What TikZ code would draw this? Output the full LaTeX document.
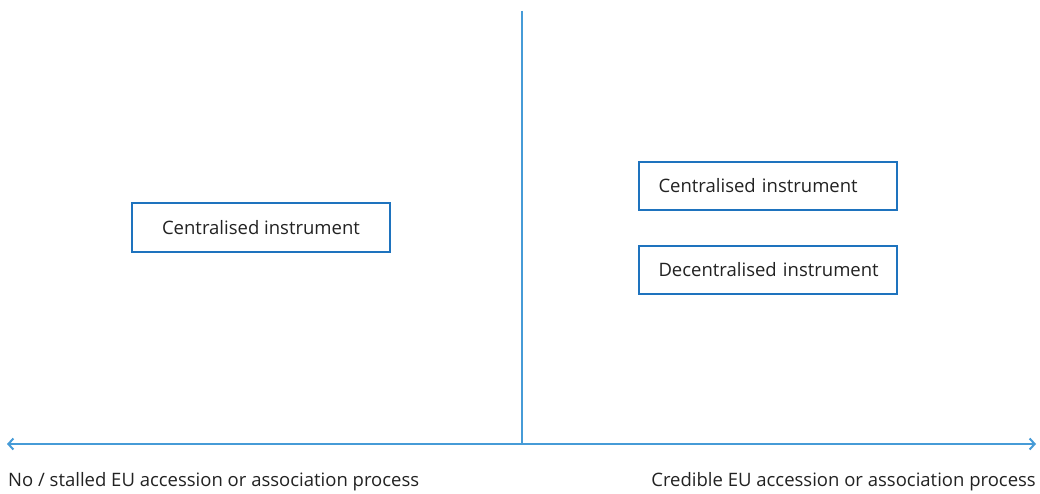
\documentclass[tikz,border=0pt]{standalone}
\usepackage{fontspec}
\setmainfont{Open Sans}
\usetikzlibrary{arrows.meta}
\definecolor{boxblue}{RGB}{30,115,190}
\definecolor{lineblue}{RGB}{70,155,215}
\definecolor{txt}{RGB}{34,34,34}
\begin{document}
\begin{tikzpicture}[x=1pt,y=-1pt,
  instbox/.style={draw=boxblue,line width=2pt,minimum width=258pt,minimum height=48pt,inner sep=0pt,font=\fontsize{18.5}{22}\selectfont,text=txt},
  axislabel/.style={font=\fontsize{18.5}{22}\selectfont,text=txt,inner sep=0pt},
  axisline/.style={draw=lineblue,line width=2pt}]
\useasboundingbox (0,0) rectangle (1040,494);
\coordinate (vtop) at (522,11);
\coordinate (vbot) at (522,444);
\coordinate (hl) at (7,444);
\coordinate (hr) at (1036,444);
\draw[axisline] (vtop) -- (vbot);
\draw[axisline,{Straight Barb[length=5pt,width=11pt]}-{Straight Barb[length=5pt,width=11pt]}] (hl) -- (hr);
\node[instbox] (lc) at (261,227.5) {Centralised instrument};
\node[instbox,text width=218pt,align=left] (rc) at (767.5,186) {\mbox{Centralised instrument}};
\node[instbox,text width=218pt,align=left] (rd) at (767.5,269.5) {\mbox{Decentralised instrument}};
\node[axislabel,anchor=west] (ll) at (8,482) {No / stalled EU accession or association process};
\node[axislabel,anchor=east] (rl) at (1036,482) {Credible EU accession or association process};
\end{tikzpicture}
\end{document}
